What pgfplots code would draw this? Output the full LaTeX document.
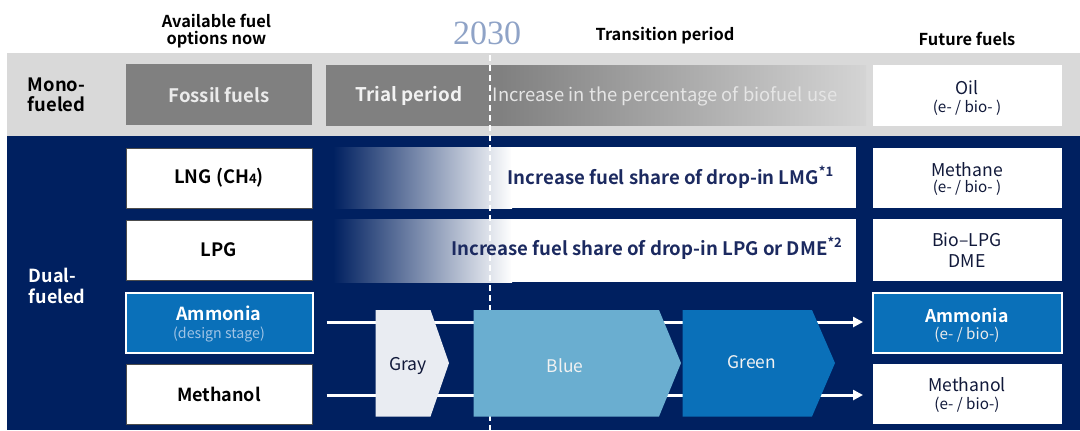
\documentclass[border=0pt]{standalone}
\usepackage{pgfplots}
\pgfplotsset{compat=1.18}
\usepackage{fontspec}
\setmainfont{Noto Sans CJK JP}[BoldFont={Noto Sans CJK JP Bold}]
\newfontfamily\yearfont{Liberation Serif}
\usetikzlibrary{arrows.meta}

\definecolor{navy}{RGB}{0,32,96}
\definecolor{band}{RGB}{217,217,217}
\definecolor{fossil}{RGB}{128,128,128}
\definecolor{trialend}{RGB}{212,212,212}
\definecolor{nh3}{RGB}{10,112,185}
\definecolor{lblue}{RGB}{106,174,208}
\definecolor{pale}{RGB}{233,236,242}
\definecolor{yr}{RGB}{143,163,199}
\definecolor{txtnavy}{RGB}{28,42,96}
\definecolor{dsub}{RGB}{160,196,230}

\newcommand\fs[1]{\fontsize{#1}{#1}\selectfont}

\begin{document}
\begin{tikzpicture}
\begin{axis}[
  width=540pt, height=215pt, scale only axis,
  xmin=0, xmax=1080, ymin=0, ymax=430, y dir=reverse,
  hide axis, clip=false,
]
% background and bands
\addplot[draw=none, fill=white] coordinates {(0,0) (1080,0) (1080,430) (0,430)} --cycle;
\addplot[draw=none, fill=band] coordinates {(7,52.7) (1080,52.7) (1080,136) (7,136)} --cycle;
\addplot[draw=none, fill=navy] coordinates {(7,136) (1080,136) (1080,430) (7,430)} --cycle;

% mono-fueled row
\addplot[draw=none, fill=fossil] coordinates {(125.7,63.5) (312.3,63.5) (312.3,125) (125.7,125)} --cycle;
\addplot[draw=none, left color=fossil, right color=trialend] coordinates {(500,65.3) (866,65.3) (866,125.6) (500,125.6)} --cycle;
\addplot[draw=none, fill=fossil] coordinates {(326.4,65) (501,65) (501,126) (326.4,126)} --cycle;
\addplot[draw=none, fill=white] coordinates {(873.3,65) (1061.7,65) (1061.7,126) (873.3,126)} --cycle;

% dual-fueled left boxes
\addplot[draw=black!70, fill=white] coordinates {(126.7,148) (312,148) (312,208) (126.7,208)} --cycle;
\addplot[draw=black!70, fill=white] coordinates {(126.7,220) (312,220) (312,280) (126.7,280)} --cycle;
\addplot[draw=white, line width=1pt, fill=nh3] coordinates {(126.2,292.5) (312.5,292.5) (312.5,352.5) (126.2,352.5)} --cycle;
\addplot[draw=black!70, fill=white] coordinates {(126.7,364.5) (312,364.5) (312,424) (126.7,424)} --cycle;

% gradient bars
\addplot[draw=none, left color=navy, right color=white] coordinates {(333,147) (512,147) (512,208) (333,208)} --cycle;
\addplot[draw=none, fill=white] coordinates {(511,147) (855.8,147) (855.8,208) (511,208)} --cycle;
\addplot[draw=none, left color=navy, right color=white] coordinates {(333,219) (512,219) (512,282) (333,282)} --cycle;
\addplot[draw=none, fill=white] coordinates {(511,219) (855.8,219) (855.8,282) (511,282)} --cycle;

% right boxes
\addplot[draw=none, fill=white] coordinates {(873.3,148) (1062,148) (1062,208) (873.3,208)} --cycle;
\addplot[draw=none, fill=white] coordinates {(873.3,219) (1062,219) (1062,281) (873.3,281)} --cycle;
\addplot[draw=white, line width=1pt, fill=nh3] coordinates {(873.3,292.5) (1062,292.5) (1062,353) (873.3,353)} --cycle;
\addplot[draw=none, fill=white] coordinates {(873.3,363.5) (1062,363.5) (1062,424) (873.3,424)} --cycle;

% 2030 dashed line
\addplot[white, line width=0.8pt, dash pattern=on 3pt off 2pt] coordinates {(489.7,45) (489.7,430)};

% arrows
\addplot[white, line width=1.5pt, -{Triangle[length=5pt,width=5pt]}] coordinates {(326.5,322) (863,322)};
\addplot[white, line width=1.5pt, -{Triangle[length=5pt,width=5pt]}] coordinates {(326.5,395) (863,395)};

% gray / blue / green pentagons
\addplot[draw=none, fill=pale] coordinates {(375.5,310) (430.5,310) (449,363) (430.5,416.5) (375.5,416.5)} --cycle;
\addplot[draw=none, fill=lblue] coordinates {(473.5,310) (659,310) (681,363) (659,416.5) (473.5,416.5)} --cycle;
\addplot[draw=none, fill=nh3] coordinates {(682.5,310) (812,310) (835,363) (812,416.5) (682.5,416.5)} --cycle;

% header texts
\node[font=\fs{8.2}\bfseries] at (axis cs:216.5,20.5) {Available fuel};
\node[font=\fs{8.2}\bfseries] at (axis cs:216.5,40) {options now};
\node[font=\yearfont\fs{17}, text=yr] at (axis cs:487,33) {2030};
\node[font=\fs{8.2}\bfseries] at (axis cs:665,36) {Transition period};
\node[font=\fs{8.2}\bfseries] at (axis cs:967,38.5) {Future fuels};

% row labels
\node[font=\fs{9.2}\bfseries, anchor=west, inner sep=0] at (axis cs:27.5,84.5) {Mono-};
\node[font=\fs{9.2}\bfseries, anchor=west, inner sep=0] at (axis cs:27.5,104.5) {fueled};
\node[font=\fs{9}\bfseries, anchor=west, inner sep=0, text=white] at (axis cs:28.5,275.5) {Dual-};
\node[font=\fs{9}\bfseries, anchor=west, inner sep=0, text=white] at (axis cs:28.5,296.5) {fueled};

% mono row texts
\node[font=\fs{9.3}\bfseries, text=black!8] at (axis cs:219,95) {Fossil fuels};
\node[font=\fs{9.4}\bfseries, text=black!5] at (axis cs:409,96) {Trial period};
\node[font=\fs{9.2}, text=black!10] at (axis cs:665,96) {Increase in the percentage of biofuel use};
\node[font=\fs{8.8}, text=txtnavy!60!black] at (axis cs:967,87.5) {Oil};
\node[font=\fs{7.6}, text=txtnavy!60!black] at (axis cs:967,107.5) {(e- / bio- )};

% left box texts
\node[font=\fs{9.2}\bfseries] at (axis cs:219,178) {LNG (CH{\fs{6.5}4})};
\node[font=\fs{9.2}\bfseries] at (axis cs:219,250) {LPG};
\node[font=\fs{9}\bfseries, text=white] at (axis cs:219,313.5) {Ammonia};
\node[font=\fs{7.1}, text=dsub] at (axis cs:219,334.5) {(design stage)};
\node[font=\fs{9}\bfseries] at (axis cs:219,394.5) {Methanol};

% bar texts
\node[font=\fs{9.3}\bfseries, text=txtnavy] at (axis cs:671,177.5) {Increase fuel share of drop-in LMG\textsuperscript{*1}};
\node[font=\fs{9.3}\bfseries, text=txtnavy] at (axis cs:647,248.5) {Increase fuel share of drop-in LPG or DME\textsuperscript{*2}};

% right box texts
\node[font=\fs{8.8}, text=txtnavy!60!black] at (axis cs:967,170) {Methane};
\node[font=\fs{7.6}, text=txtnavy!60!black] at (axis cs:967,188) {(e- / bio- )};
\node[font=\fs{8.8}, text=txtnavy!60!black] at (axis cs:967,240) {Bio–LPG};
\node[font=\fs{8.8}, text=txtnavy!60!black] at (axis cs:967,261) {DME};
\node[font=\fs{8.8}\bfseries, text=white] at (axis cs:967,315) {Ammonia};
\node[font=\fs{7.6}, text=black!8] at (axis cs:967,334.5) {(e- / bio-)};
\node[font=\fs{8.8}, text=txtnavy!60!black] at (axis cs:967,385) {Methanol};
\node[font=\fs{7.6}, text=txtnavy!60!black] at (axis cs:967,405) {(e- / bio-)};

% pentagon texts
\node[font=\fs{8.8}, text=txtnavy!60!black] at (axis cs:408,366) {Gray};
\node[font=\fs{8.7}, text=black!5] at (axis cs:565,366) {Blue};
\node[font=\fs{8.7}, text=black!5] at (axis cs:752,362) {Green};
\end{axis}
\end{tikzpicture}
\end{document}
